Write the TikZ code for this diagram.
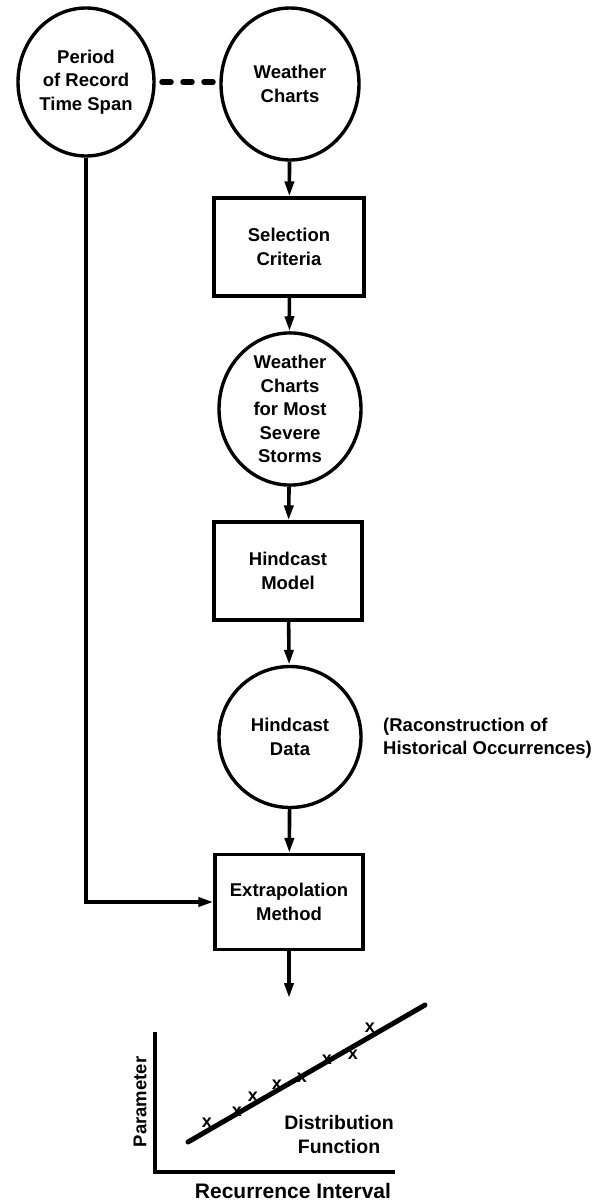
\documentclass[tikz,border=0pt]{standalone}
\usepackage{fontspec}
\setmainfont{Liberation Sans}
\usetikzlibrary{shapes.geometric,arrows.meta}
\begin{document}
\begin{tikzpicture}[x=1pt,y=-1pt,
  txt/.style={font=\fontsize{18.5}{23.5}\selectfont\bfseries, align=center, inner sep=0pt},
  circ/.style={txt, draw, ellipse, line width=3.4pt},
  boxn/.style={txt, draw, rectangle, line width=3.2pt},
  conn/.style={line width=3.6pt, -{Triangle[length=15pt,width=9pt]}},
  lbl/.style={font=\fontsize{19.5}{24}\selectfont\bfseries, inner sep=0pt}
]
\useasboundingbox (0,0) rectangle (594,1202);
\node[circ, minimum width=136pt, minimum height=148pt] (p1) at (86,82) {Period\\of Record\\Time Span};
\node[circ, minimum width=138pt, minimum height=152pt] (wc) at (290,84) {Weather\\Charts};
\node[boxn, minimum width=150pt, minimum height=98pt] (sc) at (289,247) {Selection\\Criteria};
\node[circ, minimum width=142pt, minimum height=142pt] (ws) at (290,409) {Weather\\Charts\\for Most\\Severe\\Storms};
\node[boxn, minimum width=148pt, minimum height=98pt] (hm) at (288,571) {Hindcast\\Model};
\node[circ, minimum width=142pt, minimum height=141pt] (hd) at (290,737) {Hindcast\\Data};
\node[txt, align=left, anchor=west] (rc) at (383,738) {(Raconstruction of\\Historical Occurrences)};
\node[boxn, minimum width=148pt, minimum height=95pt] (em) at (289,902) {Extrapolation\\Method};

\draw[line width=5.5pt, line cap=round, dash pattern=on 9pt off 12pt] (162,82) -- (216,82);
\draw[conn] (wc) -- (sc);
\draw[conn] (sc) -- (ws);
\draw[conn] (ws) -- (hm);
\draw[conn] (hm) -- (hd);
\draw[conn] (hd) -- (em);
\draw[conn] (p1.south) |- (em.west);
\coordinate (ea) at (289,998);
\draw[conn] (em.south) -- (ea);

% plot
\coordinate (o) at (155,1172);
\coordinate (yt) at (155,1032);
\coordinate (xr) at (395,1172);
\draw[line width=3.4pt] (yt) -- (o) -- (xr);
\coordinate (l1) at (188,1142);
\coordinate (l2) at (425,1005);
\draw[line width=5pt, line cap=round] (l1) -- (l2);
\foreach \x/\y in {207/1123,237/1112,253/1097,277/1085,302/1078,327/1060,353/1055,370/1028}
  \node[lbl, font=\fontsize{18}{18}\selectfont\bfseries] at (\x,\y) {x};
\node[lbl, align=center] (df) at (339,1135) {Distribution\\Function};
\node[lbl, font=\fontsize{18.5}{18.5}\selectfont\bfseries, rotate=90] (pa) at (140,1102) {Parameter};
\node[lbl, font=\fontsize{21}{21}\selectfont\bfseries] (ri) at (293,1191) {Recurrence Interval};
\end{tikzpicture}
\end{document}
